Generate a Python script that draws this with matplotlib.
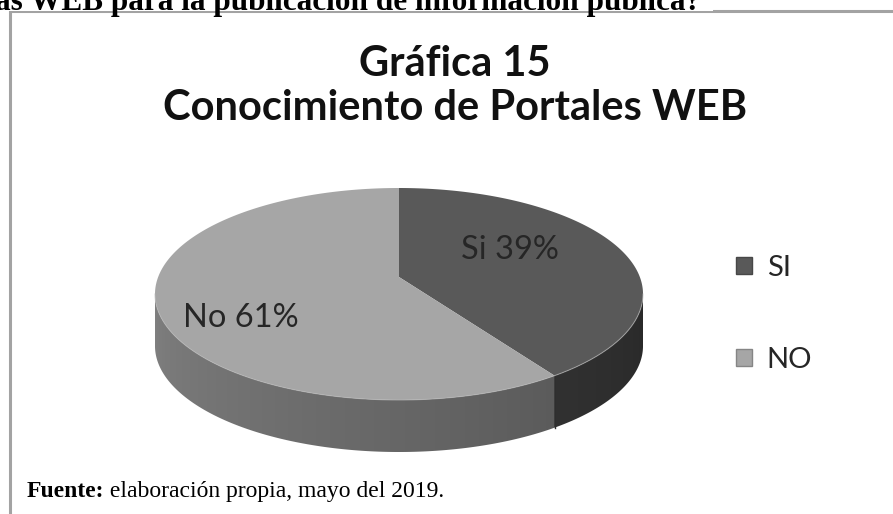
import matplotlib
matplotlib.use("Agg")
import matplotlib.pyplot as plt
from matplotlib.patches import Rectangle, Patch, Polygon
import numpy as np

# data
categories = ['SI', 'NO']
values = [39, 61]
slice_labels = ['Si 39%', 'No 61%']
top_grays = [0.35, 0.65]

chart_title = 'Gráfica 15\nConocimiento de Portales WEB'
header_text = 'as WEB para la publicación de información pública?'
source_bold = 'Fuente:'
source_text = ' elaboración propia, mayo del 2019.'

# geometry of the 3d pie in pixel units
cx, cy = 399, 294
rx, ry = 244, 106
apex_y = 277
depth = 52

fig = plt.figure(figsize=(8.93, 5.14), dpi=100)
ax = fig.add_axes([0, 0, 1, 1])
ax.set_xlim(0, 893)
ax.set_ylim(514, 0)
ax.axis('off')

# frame of the chart box
ax.add_patch(Rectangle((10, 11), 900, 520, facecolor='white', edgecolor='#a3a3a3', lw=2.2, zorder=0))
ax.add_patch(Rectangle((0, 0), 713, 10.5, facecolor='white', edgecolor='none', zorder=1))
ax.text(-5, 10, header_text, fontsize=22.5, fontweight='bold', family='Liberation Serif',
        va='baseline', ha='left', zorder=2)


def arc(t):
    return cx + rx * np.cos(t), cy - ry * np.sin(t)


def side_shade(t_deg):
    return 0.77 - 0.22 * (t_deg + 180) / 130.0


fracs = np.array(values) / float(sum(values))
bounds = 90 - 360 * np.concatenate([[0], np.cumsum(fracs)])

# side face: gradient image clipped to the front half of the rim
xs_img = np.linspace(cx - rx, cx + rx, 600)
t_img = -np.degrees(np.arccos(np.clip((xs_img - cx) / rx, -1, 1)))
row = np.zeros((1, len(xs_img), 3))
for k, td in enumerate(t_img):
    for i in range(len(values)):
        lo, hi = bounds[i + 1], bounds[i]
        if lo <= td <= hi or lo <= td - 360 <= hi or lo <= td + 360 <= hi:
            g = np.clip(top_grays[i] * side_shade(td), 0, 1)
            row[0, k] = (g, g, g)
            break
t = np.radians(np.linspace(180, 360, 300))
ax_, ay_ = arc(t)
side_pts = np.column_stack([np.r_[ax_, ax_[::-1]], np.r_[ay_, ay_[::-1] + depth]])
side_poly = Polygon(side_pts, closed=True, facecolor='none', edgecolor='none', transform=ax.transData)
ax.add_patch(side_poly)
im = ax.imshow(row, extent=(cx - rx, cx + rx, cy + ry + depth + 2, cy - 2), aspect='auto',
               interpolation='bilinear', zorder=3)
im.set_clip_path(side_poly)
ax.set_xlim(0, 893)
ax.set_ylim(514, 0)

# divider on the side between slices
for b in bounds[1:-1]:
    if np.sin(np.radians(b)) < 0:
        x, y = arc(np.radians(b))
        ax.plot([x, x], [y, y + depth], color='#2e2e2e', lw=1, zorder=4)

# top faces
for i in range(len(values)):
    t = np.radians(np.linspace(bounds[i], bounds[i + 1], 300))
    xs, ys = arc(t)
    g = top_grays[i]
    ax.fill(np.r_[cx, xs], np.r_[apex_y, ys], color=(g, g, g), zorder=5, lw=0)

# rim highlight
t = np.radians(np.linspace(180, 360, 300))
xs, ys = arc(t)
ax.plot(xs, ys, color='#b8b8b8', lw=0.8, alpha=0.6, zorder=6)

# slice labels
label_pos = [(510, 250), (241, 318)]
for lab, (x, y) in zip(slice_labels, label_pos):
    ax.text(x, y, lab, fontsize=23.5, family='Lato', color='#262626', ha='center', va='center', zorder=7)

# title
ax.text(455, 86, chart_title, fontsize=30, fontweight='bold', family='Lato', color='#111111',
        ha='center', va='center', linespacing=1.18, zorder=7)

# legend
handles = [Patch(facecolor=(g, g, g), edgecolor=(g * 0.8, g * 0.8, g * 0.8)) for g in top_grays]
leg = ax.legend(handles, categories, loc='upper left', bbox_to_anchor=(0.795, 0.555),
                frameon=False, prop={'family': 'Lato', 'size': 21}, handlelength=0.55,
                handleheight=0.55, handletextpad=0.5, labelspacing=2.25)
for txt in leg.get_texts():
    txt.set_color('#262626')

# source
t1 = ax.text(27, 497, source_bold, fontsize=17, fontweight='bold', family='Liberation Serif',
             va='baseline', ha='left', zorder=7)
fig.canvas.draw()
bb = t1.get_window_extent()
x_end = ax.transData.inverted().transform((bb.x1, bb.y0))[0]
ax.text(x_end, 497, source_text, fontsize=17, family='Liberation Serif', va='baseline', ha='left', zorder=7)

fig.savefig('out.png', dpi=100)
